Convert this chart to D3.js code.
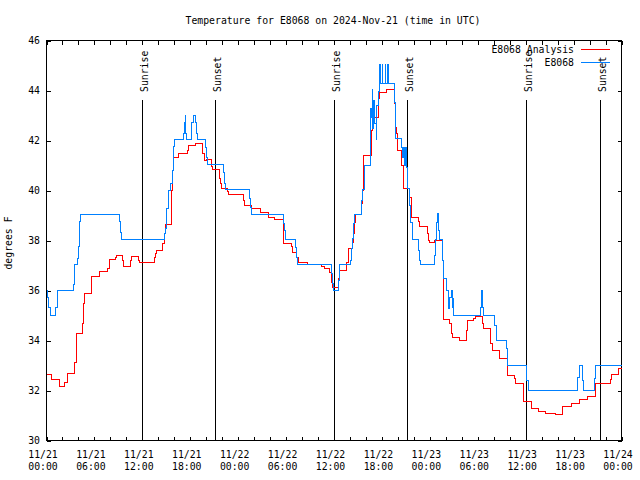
<!DOCTYPE html>
<html><head><meta charset="utf-8">
<script src="https://cdn.jsdelivr.net/npm/d3@7"></script>
<style>
html,body{margin:0;padding:0;background:#fff;}
text{font-family:"DejaVu Sans Mono",monospace;font-size:9.8px;fill:#000;}
</style></head>
<body><svg id="c" width="640" height="480"></svg>
<script>
// hours since 2024-11-21 00:00 UTC
const analysisHours = [0,0.63,1.63,2.29,2.57,3.54,3.76,4.55,4.67,4.80,5.60,5.67,6.60,6.67,7.60,7.89,8.64,8.80,9.55,9.68,10.52,10.64,11.56,11.65,13.56,13.65,13.77,14.56,14.74,14.90,15.61,15.69,15.78,15.94,16.57,17.62,17.82,18.66,19.53,19.75,20.07,20.70,20.82,21.66,21.79,21.88,22.70,22.83,24.71,24.83,25.67,26.84,27.76,28.51,29.64,29.72,30.64,30.77,31.31,31.59,32.72,34.40,34.81,35.44,35.65,35.85,36.53,36.69,37.53,37.78,38.28,38.36,38.48,38.61,38.73,39.44,39.57,39.70,40.66,40.78,41.61,41.74,42.54,43.58,43.66,43.79,43.91,44.42,44.67,45.45,45.67,46.62,46.74,47.67,47.87,48.00,48.62,49.55,49.67,49.75,50.50,50.68,50.80,51.72,52.55,52.76,53.51,53.72,54.63,54.76,55.60,55.81,56.73,57.69,58.64,58.73,59.69,59.77,60.73,61.65,62.48,63.74,64.65,65.74,66.74,67.78,68.75,70.62,70.75,71.66,72];
const analysisTemps = [32.63,32.44,32.16,32.33,32.7,33.13,34.3,34.67,35.47,35.87,36.04,36.57,36.67,36.76,36.89,37.25,37.33,37.39,37.2,36.96,37.2,37.35,37.2,37.11,37.33,37.47,37.6,37.87,38.27,38.63,39.29,40.0,40.8,41.31,41.47,41.6,41.8,41.89,41.5,41.2,41.23,40.97,40.83,40.5,40.27,40.07,39.95,39.83,39.6,39.39,39.27,39.12,38.93,38.84,38.5,37.89,37.75,37.51,37.33,37.13,37.04,36.96,36.87,36.73,36.33,36.13,36.47,36.8,37.13,37.67,37.8,37.93,38.27,38.73,39.04,39.47,40.0,41.4,42.4,42.93,43.67,43.91,44.03,43.5,42.53,42.27,41.6,41.0,40.07,39.73,38.93,38.75,38.56,38.3,38.0,37.91,38.0,37.2,35.6,34.83,34.67,34.27,34.11,34.0,34.4,34.8,34.87,34.96,34.67,34.47,33.87,33.6,33.27,32.6,32.47,32.29,31.87,31.57,31.27,31.15,31.1,31.05,31.36,31.47,31.63,31.76,32.29,32.45,32.63,32.87,32.87];

const obsHours = [0,0.13,0.21,0.50,1.13,1.34,3.42,3.54,3.84,3.97,4.09,4.17,4.30,9.14,9.23,9.35,14.81,14.90,15.03,15.24,15.53,15.74,15.87,15.94,16.07,17.12,17.28,17.37,17.44,17.53,18.12,18.19,18.37,18.66,18.78,18.87,19.91,20.00,20.12,22.16,22.25,22.41,25.46,25.55,25.63,29.68,29.80,29.93,31.14,31.27,31.39,35.69,35.78,35.90,36.60,36.73,38.07,38.19,38.36,38.48,38.61,39.44,39.57,39.86,40.53,40.61,40.70,40.78,40.86,40.95,41.07,41.29,41.36,41.54,41.70,41.76,42.07,42.13,42.45,42.51,42.74,42.80,43.58,43.71,44.42,44.54,44.62,44.70,44.79,44.87,44.95,45.04,45.17,45.49,45.58,45.79,46.58,46.67,46.83,48.59,48.71,48.84,48.96,49.12,49.25,49.62,49.75,50.05,50.30,50.46,50.68,50.80,50.88,51.00,54.35,54.47,54.63,54.76,56.14,56.31,57.60,57.77,60.11,60.32,66.53,66.74,67.16,67.29,68.66,68.75,72];
const obsTemps = [36.0,35.73,35.33,35.0,35.33,36.0,36.24,37.03,37.29,37.76,38.33,38.76,39.04,38.76,38.33,38.03,38.29,38.47,39.27,40.0,40.29,40.8,41.33,41.76,42.03,42.29,42.73,43.0,42.29,42.03,42.29,42.73,43.0,42.73,42.29,42.03,41.73,41.33,41.04,40.73,40.29,40.03,39.67,39.33,39.04,38.69,38.4,38.04,37.73,37.33,37.03,36.69,36.29,36.0,36.4,37.03,37.2,37.67,38.07,38.67,39.04,39.6,40.03,41.0,41.8,43.27,42.93,44.03,42.5,43.6,42.7,42.03,43.4,43.95,45.04,44.29,45.04,44.29,45.04,44.29,45.04,44.29,43.53,42.07,41.73,41.33,41.73,41.33,41.73,41.0,41.73,40.93,40.07,39.4,38.73,38.03,37.6,37.2,37.03,37.4,38.03,38.73,39.07,38.4,38.03,37.2,36.5,36.0,35.3,35.73,36.0,35.33,35.7,35.0,35.33,36.0,35.33,35.0,34.6,34.0,33.67,33.0,32.4,32.0,32.53,33.0,32.4,32.0,32.5,33.0,33.0];

const sunriseHours = [12.02, 36.06, 60.1];
const sunsetHours = [21.16, 45.2, 69.25];
const yTickValues = [30,32,34,36,38,40,42,44,46];
const xMinorTicks = d3.range(0, 73, 2);
const xLabelHours = [0,6,12,18,24,30,36,42,48,54,60,66,72];
const xLabelDates = ["11/21","11/21","11/21","11/21","11/22","11/22","11/22","11/22","11/23","11/23","11/23","11/23","11/24"];
const xLabelTimes = ["00:00","06:00","12:00","18:00","00:00","06:00","12:00","18:00","00:00","06:00","12:00","18:00","00:00"];
const titleText = "Temperature for E8068 on 2024-Nov-21 (time in UTC)";
const seriesNames = ["E8068 Analysis","E8068"];
const seriesColors = ["#ff0000","#0080ff"];

const svg = d3.select("#c");
const L=46.5, R=621.5, T=40.5, B=440.5;
const x = d3.scaleLinear().domain([0,72]).range([L,R]);
const y = d3.scaleLinear().domain([30,46]).range([B,T]);

// axes (ticks inward, mirrored)
const gB = svg.append("g").attr("transform",`translate(0,${B})`)
  .call(d3.axisBottom(x).tickValues(xMinorTicks).tickSize(-4).tickFormat(""));
const gT = svg.append("g").attr("transform",`translate(0,${T})`)
  .call(d3.axisTop(x).tickValues(xMinorTicks).tickSize(-4).tickFormat(""));
const gL = svg.append("g").attr("transform",`translate(${L},0)`)
  .call(d3.axisLeft(y).tickValues(yTickValues).tickSize(-4).tickFormat(""));
const gR = svg.append("g").attr("transform",`translate(${R},0)`)
  .call(d3.axisRight(y).tickValues(yTickValues).tickSize(-4).tickFormat(""));
[gB,gT,gL,gR].forEach(g=>{
  g.select(".domain").remove();
  g.selectAll("line").attr("stroke","#000").attr("shape-rendering","crispEdges");
});
svg.append("rect").attr("x",L).attr("y",T).attr("width",R-L).attr("height",B-T)
  .attr("fill","none").attr("stroke","#000").attr("shape-rendering","crispEdges");

// y labels
svg.append("g").selectAll("text").data(yTickValues).join("text")
  .attr("x",40).attr("y",d=>y(d)).attr("dy","0.35em").attr("text-anchor","end").text(d=>d);
// x labels
const xl = svg.append("g").selectAll("text").data(xLabelHours).join("text")
  .attr("text-anchor","middle");
xl.append("tspan").attr("x",d=>x(d)-3.5).attr("y",458).text((d,i)=>xLabelDates[i]);
xl.append("tspan").attr("x",d=>x(d)-3.5).attr("y",470).text((d,i)=>xLabelTimes[i]);

// title & axis label
svg.append("text").attr("x",333).attr("y",24).attr("text-anchor","middle").text(titleText);
svg.append("text").attr("transform","translate(11.5,243) rotate(-90)").attr("text-anchor","middle").text("degrees F");

// sun lines
const sun = sunriseHours.map(h=>({h,t:"Sunrise"})).concat(sunsetHours.map(h=>({h,t:"Sunset"})));
svg.append("g").selectAll("line").data(sun).join("line")
  .attr("x1",d=>Math.round(x(d.h))+0.5).attr("x2",d=>Math.round(x(d.h))+0.5)
  .attr("y1",100).attr("y2",B).attr("stroke","#000").attr("shape-rendering","crispEdges");
svg.append("g").selectAll("text").data(sun).join("text")
  .attr("transform",d=>`translate(${Math.round(x(d.h))+5.5},92) rotate(-90)`)
  .attr("text-anchor","start").text(d=>d.t);

// series
const line = d3.line().curve(d3.curveStepAfter).x(d=>x(d[0])).y(d=>y(d[1]));
const aData = analysisHours.map((h,i)=>[h,analysisTemps[i]]);
const oData = obsHours.map((h,i)=>[h,obsTemps[i]]);
svg.append("path").datum(aData).attr("d",line).attr("fill","none")
  .attr("stroke",seriesColors[0]).attr("stroke-width",1).attr("shape-rendering","crispEdges");
svg.append("path").datum(oData).attr("d",line).attr("fill","none")
  .attr("stroke",seriesColors[1]).attr("stroke-width",1).attr("shape-rendering","crispEdges");

// legend
const leg = svg.append("g");
[53,66].forEach((ty,i)=>{
  leg.append("text").attr("x",574).attr("y",ty).attr("text-anchor","end").text(seriesNames[i]);
  leg.append("line").attr("x1",581).attr("x2",610).attr("y1",ty-3.5).attr("y2",ty-3.5)
    .attr("stroke",seriesColors[i]).attr("stroke-width",1).attr("shape-rendering","crispEdges");
});
</script></body></html>
